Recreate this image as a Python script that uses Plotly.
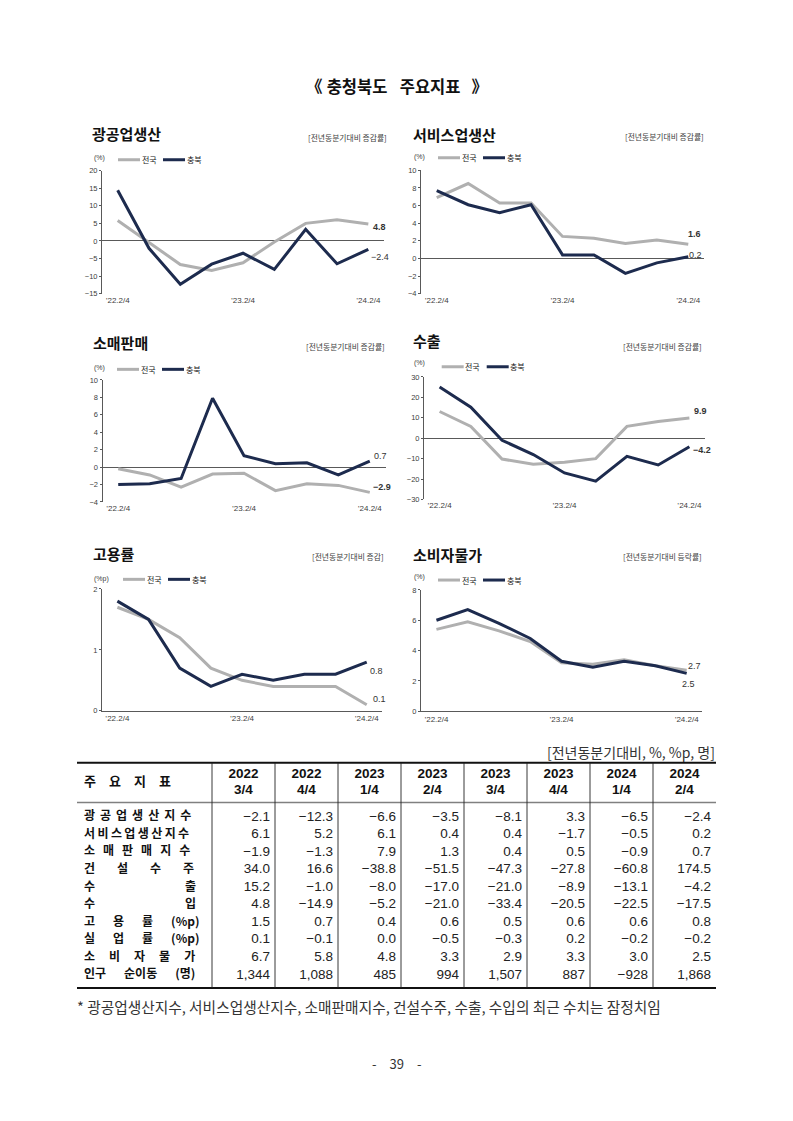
import plotly.graph_objects as go

W, H = 793, 1121


def px(x):
    return x / W


def py(y):
    return 1 - y / H


# ---------------- chart data (전국 / 충북, '22.2/4 ~ '24.2/4) ----------------
quarters = [0, 1, 2, 3, 4, 5, 6, 7, 8]
x_tick_pos = [0, 4, 8]
x_tick_text = ["’22.2/4", "’23.2/4", "’24.2/4"]
series_names = ["전국", "충북"]

mining_nat = [5.8, -0.4, -6.7, -8.4, -6.2, -0.3, 5.0, 6.0, 4.8]
mining_cb = [14.4, -2.1, -12.3, -6.6, -3.5, -8.1, 3.3, -6.5, -2.4]
service_nat = [6.9, 8.5, 6.3, 6.3, 2.5, 2.3, 1.7, 2.1, 1.6]
service_cb = [7.7, 6.1, 5.2, 6.1, 0.4, 0.4, -1.7, -0.5, 0.2]
retail_nat = [-0.2, -0.9, -2.3, -0.8, -0.7, -2.7, -1.9, -2.1, -2.9]
retail_cb = [-2.0, -1.9, -1.3, 7.9, 1.3, 0.4, 0.5, -0.9, 0.7]
export_nat = [13.1, 5.8, -10.2, -12.7, -11.8, -10.0, 5.8, 8.2, 9.9]
export_cb = [25.1, 15.2, -1.0, -8.0, -17.0, -21.0, -8.9, -13.1, -4.2]
emp_nat = [1.7, 1.5, 1.2, 0.7, 0.5, 0.4, 0.4, 0.4, 0.1]
emp_cb = [1.8, 1.5, 0.7, 0.4, 0.6, 0.5, 0.6, 0.6, 0.8]
cpi_nat = [5.4, 5.9, 5.3, 4.6, 3.2, 3.1, 3.4, 3.0, 2.7]
cpi_cb = [6.0, 6.7, 5.8, 4.8, 3.3, 2.9, 3.3, 3.0, 2.5]

chart_titles = ["광공업생산", "서비스업생산", "소매판매", "수출", "고용률", "소비자물가"]
chart_subs = ["[전년동분기대비 증감률]", "[전년동분기대비 증감률]", "[전년동분기대비 증감률]",
              "[전년동분기대비 증감률]", "[전년동분기대비 증감]", "[전년동분기대비 등락률]"]
chart_units = ["(%)", "(%)", "(%)", "(%)", "(%p)", "(%)"]
chart_nat = [mining_nat, service_nat, retail_nat, export_nat, emp_nat, cpi_nat]
chart_cb = [mining_cb, service_cb, retail_cb, export_cb, emp_cb, cpi_cb]
chart_yrange = [[-15, 20], [-4, 10], [-4, 10], [-30, 30], [0, 2], [0, 8]]
chart_dtick = [5, 2, 2, 10, 1, 2]

# ---------------- table data ----------------
col_years = ["2022", "2022", "2023", "2023", "2023", "2023", "2024", "2024"]
col_quarters = ["3/4", "4/4", "1/4", "2/4", "3/4", "4/4", "1/4", "2/4"]
row_labels = ["광공업생산지수", "서비스업생산지수", "소매판매지수", "건설수주", "수출", "수입",
              "고용률 (%p)", "실업률 (%p)", "소비자물가", "인구 순이동 (명)"]
t_mining = [-2.1, -12.3, -6.6, -3.5, -8.1, 3.3, -6.5, -2.4]
t_service = [6.1, 5.2, 6.1, 0.4, 0.4, -1.7, -0.5, 0.2]
t_retail = [-1.9, -1.3, 7.9, 1.3, 0.4, 0.5, -0.9, 0.7]
t_constr = [34.0, 16.6, -38.8, -51.5, -47.3, -27.8, -60.8, 174.5]
t_export = [15.2, -1.0, -8.0, -17.0, -21.0, -8.9, -13.1, -4.2]
t_import = [4.8, -14.9, -5.2, -21.0, -33.4, -20.5, -22.5, -17.5]
t_emp = [1.5, 0.7, 0.4, 0.6, 0.5, 0.6, 0.6, 0.8]
t_unemp = [0.1, -0.1, 0.0, -0.5, -0.3, 0.2, -0.2, -0.2]
t_cpi = [6.7, 5.8, 4.8, 3.3, 2.9, 3.3, 3.0, 2.5]
t_pop = [1344, 1088, 485, 994, 1507, 887, -928, 1868]
table_rows = [t_mining, t_service, t_retail, t_constr, t_export, t_import, t_emp, t_unemp, t_cpi, t_pop]
row_decimals = [1, 1, 1, 1, 1, 1, 1, 1, 1, 0]

# ---------------- styles / layout constants ----------------
GRAY = "#b0b0b0"
NAVY = "#1d2b4e"
AXC = "#595959"
TXT = "#404040"
KR = "Noto Sans CJK KR"
NUM = "Liberation Sans Narrow, Liberation Sans, Arial, sans-serif"
TICKF = "Liberation Sans, Arial, sans-serif"

# plot boxes in page pixels: x0, x1, ytop, ybot
boxes = [(102, 384, 168, 292), (421, 704, 167.7, 292),
         (102.5, 385.5, 379, 502), (424, 705, 376, 499.5),
         (101.8, 382.3, 589.7, 712.5), (420.8, 702.3, 590.7, 713)]
bottom_axis = [False, False, False, False, True, True]
title_pos = [(90, 130.5), (411, 131.5), (91, 341.5), (411, 339), (91, 554), (411, 554.5)]
sub_pos = [(389, 134.5), (706, 134), (387, 345.7), (704, 345.7), (386, 556.7), (704, 556.7)]
unit_pos = [(92, 155.5), (412, 154.5), (92, 366.7), (412, 361.7), (92, 579.3), (412, 577.3)]
legend_pos = [(118, 157), (438, 155), (117, 368.3), (441.7, 365.7), (123, 580), (438, 580.7)]
# (xshift, yshift, bold) for end labels: nat, cb
end_lab = [((3, -2.6, True), (0.3, -7.6, False)),
           ((-2, 10.6, True), (-1.7, 1.7, False)),
           ((1.7, 5.4, True), (2.7, 4.7, False)),
           ((3, 7.4, True), (2, -3.6, True)),
           ((4, 5.4, False), (1.3, -8.6, False)),
           ((-0.7, 4.7, False), (-6.7, -10.2, False))]


def fmt(v, dec=1):
    s = f"{abs(v):,.{dec}f}"
    return ("−" if v < 0 else "") + s


fig = go.Figure()
layout = {}
annotations = []
shapes = []

for i in range(6):
    n = "" if i == 0 else str(i + 1)
    xa, ya = "x" + n, "y" + n
    x0, x1, yt, yb = boxes[i]
    fig.add_trace(go.Scatter(x=quarters, y=chart_nat[i], mode="lines", name=series_names[0],
                             line=dict(color=GRAY, width=3), xaxis=xa, yaxis=ya,
                             showlegend=False, hoverinfo="skip"))
    fig.add_trace(go.Scatter(x=quarters, y=chart_cb[i], mode="lines", name=series_names[1],
                             line=dict(color=NAVY, width=3), xaxis=xa, yaxis=ya,
                             showlegend=False, hoverinfo="skip"))
    layout["xaxis" + n] = dict(domain=[px(x0), px(x1)], range=[-0.5, 8.5], anchor=ya,
                               tickmode="array", tickvals=x_tick_pos, ticktext=x_tick_text,
                               showgrid=False, zeroline=False, showline=bottom_axis[i],
                               linecolor=AXC, linewidth=1, ticks="",
                               tickfont=dict(family=TICKF, size=8, color=TXT), fixedrange=True)
    layout["yaxis" + n] = dict(domain=[py(yb), py(yt)], range=chart_yrange[i], anchor=xa,
                               tick0=0, dtick=chart_dtick[i], showgrid=False,
                               zeroline=not bottom_axis[i], zerolinecolor=AXC, zerolinewidth=1,
                               showline=True, linecolor=AXC, linewidth=1,
                               ticks="outside", ticklen=2, tickcolor=AXC,
                               tickfont=dict(family=TICKF, size=7.5, color=TXT), fixedrange=True)
    # titles
    tx, ty = title_pos[i]
    annotations.append(dict(text=chart_titles[i], x=px(tx), y=py(ty), xref="paper", yref="paper",
                            xanchor="left", yanchor="middle", showarrow=False,
                            font=dict(family=KR, size=15, color="#111111", weight="bold")))
    sx, sy = sub_pos[i]
    annotations.append(dict(text=chart_subs[i], x=px(sx), y=py(sy), xref="paper", yref="paper",
                            xanchor="right", yanchor="middle", showarrow=False,
                            font=dict(family=KR, size=7.8, color=TXT)))
    ux, uy = unit_pos[i]
    annotations.append(dict(text=chart_units[i], x=px(ux), y=py(uy), xref="paper", yref="paper",
                            xanchor="left", yanchor="middle", showarrow=False,
                            font=dict(family=TICKF, size=7, color=TXT)))
    # manual legend
    s, ly = legend_pos[i]
    for k, (col, off) in enumerate([(GRAY, 0), (NAVY, 45)]):
        shapes.append(dict(type="line", xref="paper", yref="paper",
                           x0=px(s + off), x1=px(s + off + 22), y0=py(ly), y1=py(ly),
                           line=dict(color=col, width=3)))
        annotations.append(dict(text=series_names[k], x=px(s + off + 21.5), y=py(ly),
                                xref="paper", yref="paper", xanchor="left", yanchor="middle",
                                showarrow=False, font=dict(family=KR, size=8, color="#222222")))
    # end-of-line value labels
    for series, (xs, ys, bold) in zip([chart_nat[i], chart_cb[i]], end_lab[i]):
        annotations.append(dict(text=fmt(series[-1]), x=quarters[-1], y=series[-1], xref=xa, yref=ya,
                                xanchor="left", yanchor="middle", xshift=xs, yshift=ys,
                                showarrow=False,
                                font=dict(family=TICKF, size=9, color="#333333",
                                          weight="bold" if bold else "normal")))

# ---------------- table ----------------
label_w = 135 / 63.0
ROW0, PITCH = 820.0, 17.67


def row_of(ypx):
    return (ypx - ROW0) / PITCH


T_TOP, T_HEAD, T_BOT = 765, 805, 992
D_TOP, D_BOT = 758, 999
layout["xaxis7"] = dict(domain=[px(77), px(716)], range=[-label_w, 8], anchor="y7",
                        visible=False, fixedrange=True)
layout["yaxis7"] = dict(domain=[py(D_BOT), py(D_TOP)], range=[row_of(D_BOT), row_of(D_TOP)],
                        anchor="x7", visible=False, fixedrange=True)

EM, EN, THREE, FOUR, SIX, THIN, HAIR = "\u2003", "\u2002", "\u2004", "\u2005", "\u2006", "\u2009", "\u200a"
gap_for = {7: FOUR + SIX, 8: THIN, 6: EN + SIX, 4: EM + EN + THREE, 2: EM * 7 + EN, 5: EM + SIX}


def spread(label):
    toks = label.split(" ")
    if len(toks) == 2 and toks[1].startswith("("):
        toks = list(toks[0]) + [toks[1]]
        return (EM + EN).join(toks)
    if len(toks) > 1:
        return (EM + EN).join(toks)
    toks = list(label)
    return gap_for[len(toks)].join(toks)


head_label_y = row_of((T_TOP + T_HEAD) / 2)
year_y, quarter_y = row_of(776.5), row_of(793)
label_x = -label_w + 7 / 63.0
row_idx = list(range(len(row_labels)))

# header
fig.add_trace(go.Scatter(x=[label_x], y=[head_label_y], mode="text", text=[EM.join(list("주요지표"))],
                         textposition="middle right", xaxis="x7", yaxis="y7", cliponaxis=False,
                         textfont=dict(family=KR, size=13, color="#111111", weight="bold"),
                         showlegend=False, hoverinfo="skip"))
for yy, labels in [(year_y, col_years), (quarter_y, col_quarters)]:
    fig.add_trace(go.Scatter(x=[j + 0.5 for j in range(8)], y=[yy] * 8, mode="text",
                             text=labels, textposition="middle center", xaxis="x7", yaxis="y7",
                             cliponaxis=False,
                             textfont=dict(family=NUM, size=13.5, color="#111111", weight="bold"),
                             showlegend=False, hoverinfo="skip"))
# row labels
fig.add_trace(go.Scatter(x=[label_x] * len(row_labels), y=row_idx, mode="text",
                         text=[spread(l) for l in row_labels],
                         textposition="middle right", xaxis="x7", yaxis="y7", cliponaxis=False,
                         textfont=dict(family=KR, size=12, color="#111111", weight="bold"),
                         showlegend=False, hoverinfo="skip"))
# cell values
for j in range(8):
    fig.add_trace(go.Scatter(x=[j + 1 - 5 / 63.0] * len(table_rows), y=row_idx, mode="text",
                             text=[fmt(r[j], d) for r, d in zip(table_rows, row_decimals)],
                             textposition="middle left", xaxis="x7", yaxis="y7", cliponaxis=False,
                             textfont=dict(family=NUM, size=13.5, color="#222222"),
                             showlegend=False, hoverinfo="skip"))

# table rules
shapes.append(dict(type="line", xref="x7", yref="y7", x0=-label_w, x1=8,
                   y0=row_of(T_TOP), y1=row_of(T_TOP), line=dict(color="#111111", width=2)))
shapes.append(dict(type="line", xref="x7", yref="y7", x0=-label_w, x1=8,
                   y0=row_of(T_HEAD), y1=row_of(T_HEAD), line=dict(color="#808080", width=1.6)))
shapes.append(dict(type="line", xref="x7", yref="y7", x0=-label_w, x1=8,
                   y0=row_of(T_BOT), y1=row_of(T_BOT), line=dict(color="#111111", width=2)))
for j in range(8):
    shapes.append(dict(type="line", xref="x7", yref="y7", x0=j, x1=j,
                       y0=row_of(T_TOP), y1=row_of(T_BOT), line=dict(color="#222222", width=0.9)))

# page texts
annotations.append(dict(text="《" + FOUR + "충청북도" + EN + FOUR + "주요지표" + EN + SIX + "》",
                        x=px(396.5), y=py(83),
                        xref="paper", yref="paper", xanchor="center", yanchor="middle", showarrow=False,
                        font=dict(family=KR, size=16.5, color="#111111", weight="bold")))
annotations.append(dict(text="[전년동분기대비, %, %p, 명]", x=px(717), y=py(754), xref="paper",
                        yref="paper", xanchor="right", yanchor="middle", showarrow=False,
                        font=dict(family=KR, size=14, color="#333333")))
annotations.append(dict(text="* 광공업생산지수, 서비스업생산지수, 소매판매지수, 건설수주, 수출, 수입의 최근 수치는 잠정치임",
                        x=px(75), y=py(1011), xref="paper", yref="paper", xanchor="left",
                        yanchor="middle", showarrow=False,
                        font=dict(family=KR, size=14.7, color="#333333")))
annotations.append(dict(text="-" + EM + "39" + EM + "-", x=px(396.5), y=py(1068), xref="paper",
                        yref="paper", xanchor="center", yanchor="middle", showarrow=False,
                        font=dict(family=KR, size=13, color="#333333")))

fig.update_layout(width=W, height=H, margin=dict(l=0, r=0, t=0, b=0),
                  paper_bgcolor="white", plot_bgcolor="white",
                  font=dict(family=KR, color=TXT), showlegend=False,
                  annotations=annotations, shapes=shapes, **layout)

fig.write_html("out.html", config={"displayModeBar": False},
               post_script="document.body.style.margin='0px';document.body.style.overflow='hidden';")
